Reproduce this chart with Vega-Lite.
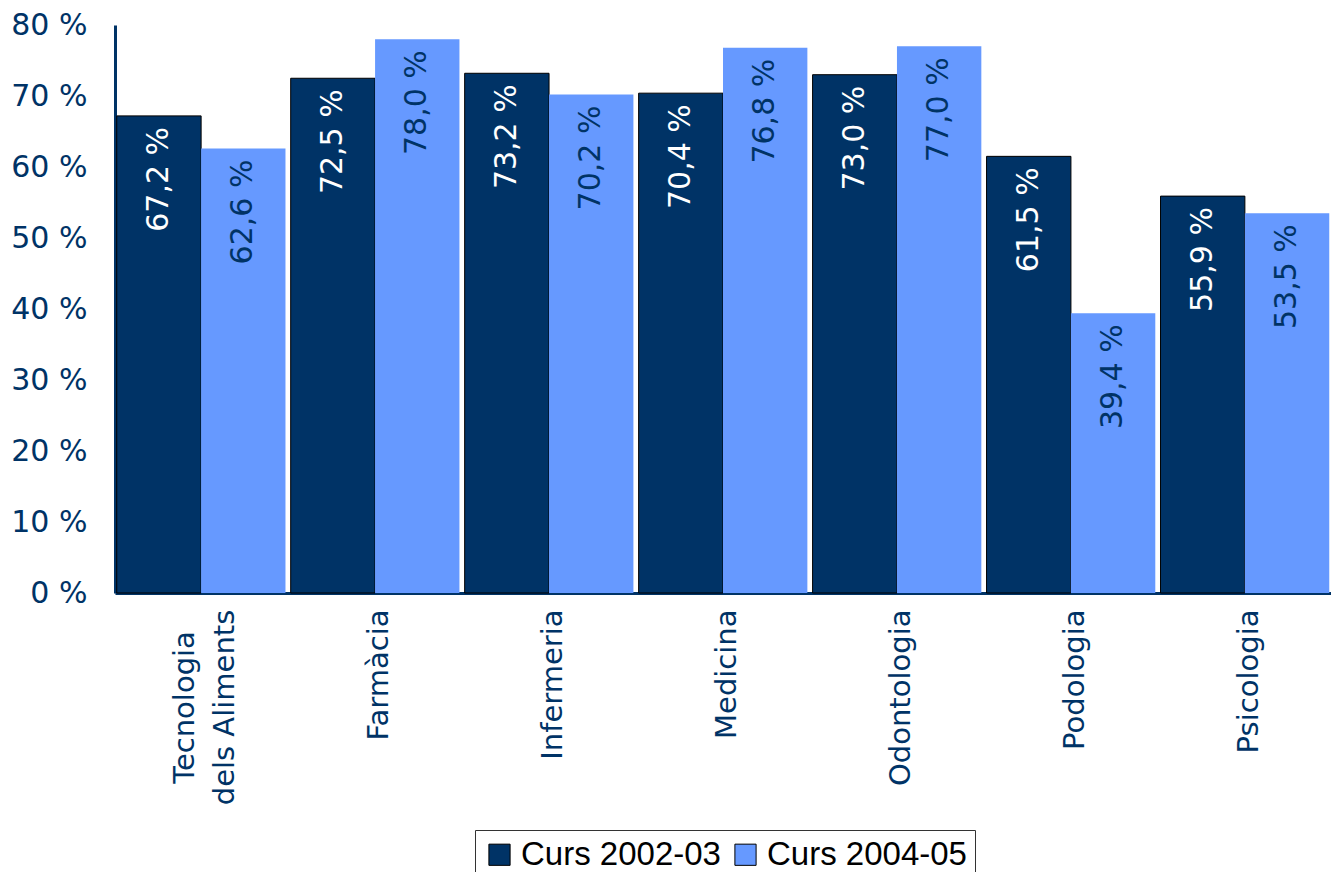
{
  "$schema": "https://vega.github.io/schema/vega-lite/v6.json",
  "autosize": {"type": "none"},
  "padding": {"left": 115, "top": 25, "right": 0, "bottom": 279},
  "width": 1216,
  "height": 568,
  "background": "white",
  "data": {"values": [
    {"categoria": "Tecnologia dels Aliments", "curs": "Curs 2002-03", "valor": 67.2},
    {"categoria": "Tecnologia dels Aliments", "curs": "Curs 2004-05", "valor": 62.6},
    {"categoria": "Farmàcia", "curs": "Curs 2002-03", "valor": 72.5},
    {"categoria": "Farmàcia", "curs": "Curs 2004-05", "valor": 78.0},
    {"categoria": "Infermeria", "curs": "Curs 2002-03", "valor": 73.2},
    {"categoria": "Infermeria", "curs": "Curs 2004-05", "valor": 70.2},
    {"categoria": "Medicina", "curs": "Curs 2002-03", "valor": 70.4},
    {"categoria": "Medicina", "curs": "Curs 2004-05", "valor": 76.8},
    {"categoria": "Odontologia", "curs": "Curs 2002-03", "valor": 73.0},
    {"categoria": "Odontologia", "curs": "Curs 2004-05", "valor": 77.0},
    {"categoria": "Podologia", "curs": "Curs 2002-03", "valor": 61.5},
    {"categoria": "Podologia", "curs": "Curs 2004-05", "valor": 39.4},
    {"categoria": "Psicologia", "curs": "Curs 2002-03", "valor": 55.9},
    {"categoria": "Psicologia", "curs": "Curs 2004-05", "valor": 53.5}
  ]},
  "transform": [
    {"calculate": "replace(format(datum.valor, '.1f'), '.', ',') + ' %'", "as": "etiqueta"}
  ],
  "encoding": {
    "x": {
      "field": "categoria", "type": "nominal", "sort": null,
      "scale": {"paddingInner": 0.03, "paddingOuter": 0.01},
      "axis": {
        "title": null,
        "labelAngle": -90,
        "labelAlign": {"condition": {"test": "datum.label == 'Tecnologia dels Aliments'", "value": "center"}, "value": "right"},
        "labelBaseline": "middle",
        "labelFont": "DejaVu Sans",
        "labelFontSize": 29,
        "labelColor": "#003366",
        "labelPadding": {"condition": {"test": "datum.label == 'Tecnologia dels Aliments'", "value": 114}, "value": 16},
        "labelLineHeight": 40,
        "labelLimit": 300,
        "labelOffset": {"condition": {"test": "datum.label == 'Tecnologia dels Aliments'", "value": -16}, "value": 4},
        "labelExpr": "datum.label == 'Tecnologia dels Aliments' ? ['Tecnologia', 'dels Aliments'] : datum.label",
        "ticks": false,
        "domainColor": "#003366",
        "domainWidth": 3
      }
    },
    "xOffset": {"field": "curs", "type": "nominal", "scale": {"paddingInner": 0, "paddingOuter": 0}},
    "y": {
      "field": "valor", "type": "quantitative",
      "scale": {"domain": [0, 80], "nice": false},
      "axis": {
        "title": null,
        "values": [0, 10, 20, 30, 40, 50, 60, 70, 80],
        "labelExpr": "datum.value + ' %'",
        "labelFont": "DejaVu Sans",
        "labelFontSize": 30,
        "labelColor": "#003366",
        "labelPadding": 28,
        "ticks": false,
        "grid": false,
        "domainColor": "#003366",
        "domainWidth": 3
      }
    }
  },
  "layer": [
    {
      "mark": {"type": "bar", "strokeWidth": 1},
      "encoding": {
        "color": {
          "field": "curs", "type": "nominal",
          "scale": {"domain": ["Curs 2002-03", "Curs 2004-05"], "range": ["#003366", "#6699FF"]},
          "legend": {
            "title": null,
            "orient": "none",
            "direction": "horizontal",
            "legendX": 360,
            "legendY": 805,
            "labelFont": "Liberation Sans",
            "labelFontSize": 33,
            "labelColor": "#000000",
            "labelLimit": 400,
            "symbolType": "square",
            "symbolSize": 450,
            "symbolStrokeColor": "#000000",
            "symbolStrokeWidth": 1,
            "columnPadding": 8,
            "labelOffset": 5,
            "strokeColor": "#333333",
            "fillColor": "white",
            "padding": 8
          }
        },
        "stroke": {
          "condition": {"test": "datum.curs == 'Curs 2002-03'", "value": "#000000"},
          "value": null
        }
      }
    },
    {
      "mark": {
        "type": "text",
        "angle": 270,
        "align": "right",
        "baseline": "middle",
        "dx": -11,
        "font": "DejaVu Sans",
        "fontSize": 30
      },
      "encoding": {
        "text": {"field": "etiqueta"},
        "color": {
          "condition": {"test": "datum.curs == 'Curs 2002-03'", "value": "#FFFFFF"},
          "value": "#003366"
        }
      }
    }
  ],
  "config": {"view": {"stroke": null}}
}
